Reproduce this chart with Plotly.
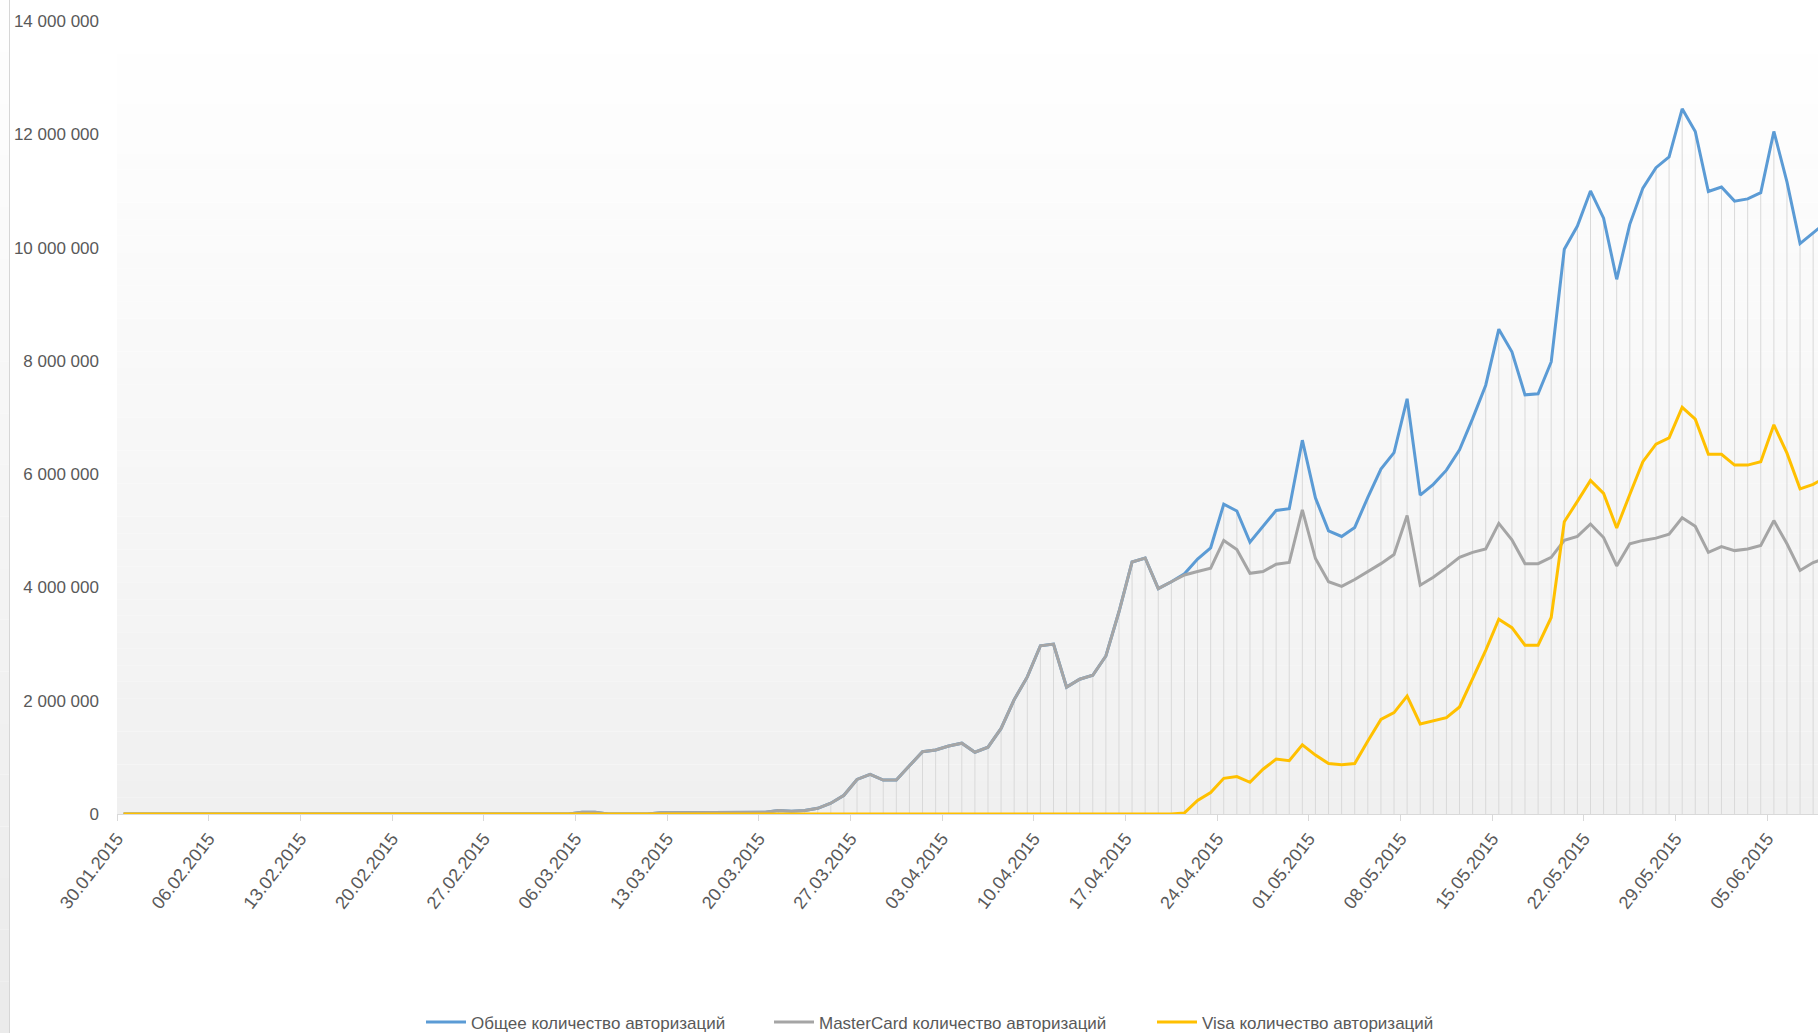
import plotly.graph_objects as go
import pandas as pd

# ---------------- data (values in millions of authorizations) ----------------
start_date = "2015-01-30"
n_days = 131  # 30.01.2015 .. 09.06.2015
dates = pd.date_range(start_date, periods=n_days, freq="D")

mastercard_m = (
    [0] * 35
    + [0.03, 0.03, 0, 0, 0, 0]
    + [0.02] * 8
    + [0.03, 0.06, 0.05, 0.06, 0.10, 0.19, 0.33]
    + [0.61, 0.70, 0.60, 0.60, 0.85, 1.10, 1.13, 1.20, 1.25, 1.09]
    + [1.18, 1.51, 2.02, 2.42, 2.97, 3.00, 2.24, 2.38, 2.45, 2.79]
    + [3.57, 4.45, 4.52, 3.98, 4.10, 4.22, 4.28, 4.34, 4.83, 4.67]
    + [4.25, 4.28, 4.41, 4.44, 5.37, 4.51, 4.10, 4.02, 4.14, 4.28]
    + [4.42, 4.58, 5.27, 4.04, 4.18, 4.35, 4.53, 4.62, 4.68, 5.13]
    + [4.84, 4.42, 4.42, 4.53, 4.83, 4.90, 5.12, 4.88, 4.38, 4.77]
    + [4.83, 4.87, 4.94, 5.23, 5.08, 4.62, 4.72, 4.65, 4.68, 4.74]
    + [5.18, 4.77, 4.30, 4.44, 4.52]
)

visa_m = (
    [0] * 81
    + [0.02, 0.24, 0.38, 0.63, 0.66]
    + [0.56, 0.79, 0.97, 0.94, 1.22, 1.04, 0.89, 0.87, 0.89, 1.29]
    + [1.67, 1.79, 2.08, 1.59, 1.65, 1.70, 1.89, 2.38, 2.89, 3.44]
    + [3.29, 2.98, 2.98, 3.47, 5.16, 5.52, 5.89, 5.66, 5.05, 5.64]
    + [6.22, 6.53, 6.64, 7.18, 6.97, 6.35, 6.35, 6.16, 6.16, 6.22]
    + [6.87, 6.37, 5.74, 5.82, 5.95]
)

total_m = (
    [0] * 35
    + [0.03, 0.03, 0, 0, 0, 0]
    + [0.02] * 8
    + [0.03, 0.06, 0.05, 0.06, 0.10, 0.19, 0.33]
    + [0.61, 0.70, 0.60, 0.60, 0.85, 1.10, 1.13, 1.20, 1.25, 1.09]
    + [1.18, 1.51, 2.02, 2.42, 2.97, 3.00, 2.24, 2.38, 2.45, 2.79]
    + [3.57, 4.45, 4.52, 3.98, 4.10]
    + [4.24, 4.50, 4.70, 5.47, 5.35]
    + [4.80, 5.07, 5.36, 5.39, 6.60, 5.58, 5.00, 4.90, 5.06, 5.59]
    + [6.09, 6.38, 7.33, 5.63, 5.82, 6.07, 6.43, 6.98, 7.57, 8.56]
    + [8.16, 7.40, 7.42, 7.98, 9.97, 10.38, 11.00, 10.52, 9.44, 10.41]
    + [11.05, 11.41, 11.60, 12.45, 12.05, 10.99, 11.07, 10.82, 10.86, 10.97]
    + [12.05, 11.16, 10.07, 10.26, 10.45]
)

series_names = [
    "Общее количество авторизаций",
    "MasterCard количество авторизаций",
    "Visa количество авторизаций",
]
series_colors = ["#5B9BD5", "#A5A5A5", "#FFC000"]

y_ticks_m = [0, 2, 4, 6, 8, 10, 12, 14]

# ---------------- figure ----------------
M = 1_000_000
total = [v * M for v in total_m]
mastercard = [v * M for v in mastercard_m]
visa = [v * M for v in visa_m]

W, H = 1818, 1033
L, R, T, B = 117, 0, 21, 219
pw, ph = W - L - R, H - T - B

DAY_MS = 86400000
FONT = "Liberation Sans, Arial, sans-serif"
TXT = "#595959"

fig = go.Figure()

# drop lines (from highest series value down to the axis)
dx, dy = [], []
for d, a, b, c in zip(dates, total, mastercard, visa):
    dx += [d, d, None]
    dy += [0, max(a, b, c), None]
fig.add_trace(go.Scatter(
    x=dx, y=dy, mode="lines", line=dict(color="#d9d9d9", width=1),
    xperiod=DAY_MS, xperiodalignment="middle",
    showlegend=False, hoverinfo="skip", connectgaps=False,
))

legend_ids = ["legend", "legend2", "legend3"]
for name, vals, col, lg in zip(series_names, [total, mastercard, visa],
                               series_colors, legend_ids):
    fig.add_trace(go.Scatter(
        x=dates, y=vals, name=name, mode="lines",
        line=dict(color=col, width=3),
        xperiod=DAY_MS, xperiodalignment="middle",
        legend=lg,
    ))

# gradient plot background (white at top -> light grey at bottom)
shapes = []
N = 48
for i in range(N):
    f = (i + 0.5) / N  # 0 bottom -> 1 top
    g = round(240 + 15 * f)
    shapes.append(dict(
        type="rect", xref="paper", yref="paper",
        x0=0, x1=1, y0=i / N, y1=(i + 1) / N,
        fillcolor=f"rgb({g},{g},{g})", line=dict(width=0), layer="below",
    ))

# left window strip
sx0, sx1 = (0 - L) / pw, (9 - L) / pw
ybot, ytop = -(B) / ph, 1 + T / ph
NS = 20
for i in range(NS):
    f = (i + 0.5) / NS
    g = round(234 + 21 * f)
    shapes.append(dict(
        type="rect", xref="paper", yref="paper",
        x0=sx0, x1=sx1,
        y0=ybot + (ytop - ybot) * i / NS, y1=ybot + (ytop - ybot) * (i + 1) / NS,
        fillcolor=f"rgb({g},{g},{g})", line=dict(width=0), layer="below",
    ))
lx = (9.5 - L) / pw
shapes.append(dict(
    type="line", xref="paper", yref="paper", x0=lx, x1=lx, y0=ybot, y1=ytop,
    line=dict(color="#d6d6d6", width=1), layer="below",
))

legend_y = -(1022.5 - (T + ph)) / ph
legend_px = [421, 769, 1152]  # left edge of each legend block (px)
legends = {}
for lg, px in zip(legend_ids, legend_px):
    legends[lg] = dict(
        orientation="h", x=(px - L) / pw, xanchor="left",
        y=legend_y, yanchor="middle",
        font=dict(size=17, color=TXT, family=FONT),
        bgcolor="rgba(0,0,0,0)",
        itemwidth=40,
    )

fig.update_layout(
    width=W, height=H,
    margin=dict(l=L, r=R, t=T, b=B, pad=0, autoexpand=False),
    paper_bgcolor="white", plot_bgcolor="rgba(0,0,0,0)",
    separators=", ",
    font=dict(family=FONT, color=TXT),
    shapes=shapes,
    showlegend=True,
    xaxis=dict(
        type="date",
        range=[start_date, "2015-06-08 20:53"],
        tick0=start_date, dtick=7 * DAY_MS, tickformat="%d.%m.%Y",
        tickangle=-52,
        ticks="outside", ticklen=6, tickcolor="#d9d9d9", tickwidth=1,
        showline=True, linecolor="#d9d9d9", linewidth=1,
        showgrid=False, zeroline=False,
        tickfont=dict(size=18, color=TXT, family=FONT),
        automargin=False,
    ),
    yaxis=dict(
        range=[0, 14 * M],
        tickvals=[v * M for v in y_ticks_m],
        tickformat=",d",
        ticks="", showline=False, showgrid=False, zeroline=False,
        tickfont=dict(size=17, color=TXT, family=FONT),
        ticklabelstandoff=17,
        automargin=False,
    ),
    **legends,
)

fig.write_html(
    "out.html",
    config={"displayModeBar": False},
    post_script="document.body.style.margin='0px';document.body.style.overflow='hidden';",
)
